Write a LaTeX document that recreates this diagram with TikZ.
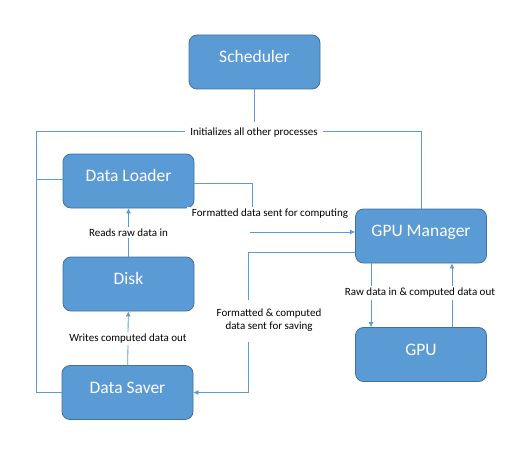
\documentclass[tikz,border=0pt]{standalone}
\usepackage{fontspec}
\setmainfont{Carlito}
\usetikzlibrary{positioning,arrows.meta}
\definecolor{boxblue}{HTML}{5B9BD5}
\definecolor{boxedge}{HTML}{41719C}

\begin{document}
\begin{tikzpicture}[x=1pt,y=-1pt,box/.style={draw=boxedge, fill=boxblue, text=white, rounded corners=8pt, minimum width=131pt, minimum height=54pt, text height=12pt, text depth=11pt, font=\fontsize{17.5}{20}\selectfont, line width=0.8pt},lbl/.style={fill=white, inner xsep=5pt, inner ysep=2pt, align=center, font=\fontsize{11}{13}\selectfont},link/.style={draw=boxblue, line width=0.8pt},arr/.style={link, -{Latex[length=5pt,width=5pt]}}]
\useasboundingbox (0,0) rectangle (527,468);
% processes
\node[box] (sched) at (254.5,62) {Scheduler};
\node[box] (loader) at (128.5,181) {Data Loader};
\node[box] (disk) at (128.5,284) {Disk};
\node[box] (saver) at (127.5,392.5) {Data Saver};
\node[box] (gpum) at (421,236) {GPU Manager};
\node[box] (gpu) at (421,354.5) {GPU};
% corner points
\coordinate (lft) at (36,131);
\coordinate (rgt) at (421,131);
\coordinate (cmpA) at (252,183);
\coordinate (cmpB) at (250,232);
\coordinate (savA) at (248,252);
\coordinate (savB) at (248,342);
% scheduler starts everything
\draw[link] (sched.south) -- (sched.south |- 0,122);
\draw[link] (rgt) -- (lft) -- (lft |- saver.west) -- (saver.west);
\draw[link] (rgt) -- (gpum.north);
\draw[link] (lft |- 0,179) -- (loader.west |- 0,179);
\node[lbl] (init) at (254,133) {Initializes all other processes};
% loader to gpu manager
\draw[link] (loader.east |- cmpA) -| (252,207);
\draw[arr] (cmpB) -- (cmpB -| gpum.west);
\node[lbl] (fmt) at (270,214) {Formatted data sent for computing};
% gpu manager to saver
\draw[link] (savA -| gpum.west) -- (savA) -- (248,300);
\draw[arr] (savB) |- (saver.east);
\node[lbl] (fsave) at (269,320.5) {Formatted \& computed\\data sent for saving};
% disk
\draw[arr] (disk) -- node[lbl] (reads) {Reads raw data in} (loader);
\draw[arr] (saver) -- node[lbl] (writes) {Writes computed data out} (disk);
% gpu
\draw[arr] (gpum.south -| 371,0) -- (gpu.north -| 371,0);
\draw[arr] (gpu.north -| 452,0) -- (gpum.south -| 452,0);
\node[lbl] (raw) at (420,293) {Raw data in \& computed data out};
\end{tikzpicture}
\end{document}
